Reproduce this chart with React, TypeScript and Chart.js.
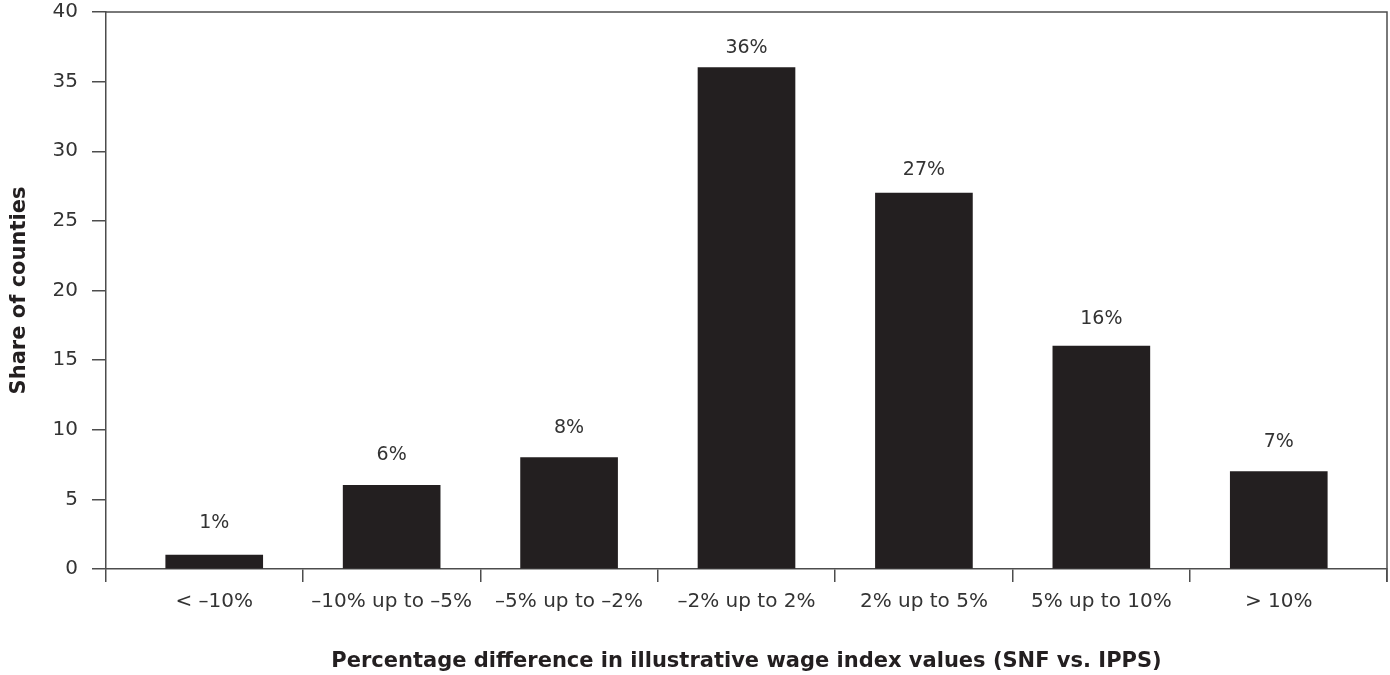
import React, { useEffect, useRef } from "react";
import { Chart, registerables } from "chart.js";

Chart.register(...registerables);

const categories = [
  "< –10%",
  "–10% up to –5%",
  "–5% up to –2%",
  "–2% up to 2%",
  "2% up to 5%",
  "5% up to 10%",
  "> 10%",
];
const shares = [1, 6, 8, 36, 27, 16, 7];
const yTicks = [0, 5, 10, 15, 20, 25, 30, 35, 40];

const FONT = "'DejaVu Sans', sans-serif";
const INK = "#333333";
const BAR = "#231f20";
const LINE = "#4d4d4d";

const X_MIN = -0.61;
const X_MAX = categories.length - 1 + 0.61;

// Percent labels above each bar; taller bars sit a little closer to their label.
const valueLabels = {
  id: "valueLabels",
  afterDatasetsDraw(chart: any) {
    const { ctx } = chart;
    const meta = chart.getDatasetMeta(0);
    ctx.save();
    ctx.font = `19px ${FONT}`;
    ctx.fillStyle = INK;
    ctx.textAlign = "center";
    ctx.textBaseline = "middle";
    meta.data.forEach((el: any, i: number) => {
      const gap = 18 + 0.025 * el.y;
      ctx.fillText(`${shares[i]}%`, el.x, el.y - gap);
    });
    ctx.restore();
  },
};

// Closes the plot box on the top and right.
const frame = {
  id: "frame",
  afterDraw(chart: any) {
    const { ctx, chartArea } = chart;
    ctx.save();
    ctx.strokeStyle = LINE;
    ctx.lineWidth = 1.5;
    ctx.beginPath();
    ctx.moveTo(chartArea.left, chartArea.top);
    ctx.lineTo(chartArea.right, chartArea.top);
    ctx.lineTo(chartArea.right, chartArea.bottom + 13);
    ctx.stroke();
    ctx.restore();
  },
};

const noScalePadding = (scale: any) => {
  scale.paddingTop = 0;
  scale.paddingBottom = 0;
  scale.paddingLeft = 0;
  scale.paddingRight = 0;
};

export default function App() {
  const ref = useRef<HTMLCanvasElement | null>(null);

  useEffect(() => {
    if (!ref.current) return;
    const chart = new Chart(ref.current, {
      type: "bar",
      data: {
        datasets: [
          {
            data: shares.map((v, i) => ({ x: i, y: v })),
            backgroundColor: BAR,
            borderWidth: 0,
            barThickness: 97,
          },
        ],
      },
      options: {
        animation: false,
        responsive: false,
        layout: { padding: { top: 12, right: 3, bottom: 0, left: 0 } },
        plugins: { legend: { display: false }, tooltip: { enabled: false } },
        scales: {
          x: {
            type: "linear",
            offset: false,
            min: X_MIN,
            max: X_MAX,
            afterBuildTicks(scale: any) {
              const vals: number[] = [X_MIN, X_MAX];
              categories.forEach((_, i) => {
                vals.push(i);
                if (i < categories.length - 1) vals.push(i + 0.5);
              });
              vals.sort((a, b) => a - b);
              scale.ticks = vals.map((value) => ({ value }));
            },
            afterFit(scale: any) {
              scale.height = 106;
              noScalePadding(scale);
            },
            border: { display: true, color: LINE, width: 1.5 },
            grid: {
              offset: false,
              drawOnChartArea: false,
              drawTicks: true,
              tickLength: 13,
              lineWidth: 1.5,
              color: (c: any) =>
                c.tick && Number.isInteger(c.tick.value) ? "rgba(0,0,0,0)" : LINE,
            },
            ticks: {
              autoSkip: false,
              maxRotation: 0,
              padding: 8,
              color: INK,
              font: { family: FONT, size: 20 },
              callback: (v: any) =>
                Number.isInteger(v) ? categories[v] ?? "" : "",
            },
            title: {
              display: true,
              text: "Percentage difference in illustrative wage index values (SNF vs. IPPS)",
              color: "#231f20",
              font: { family: FONT, size: 21, weight: "bold" },
              padding: { top: 0, bottom: 1 },
            },
          },
          y: {
            min: 0,
            max: 40,
            afterBuildTicks(scale: any) {
              scale.ticks = yTicks.map((value) => ({ value }));
            },
            afterFit(scale: any) {
              scale.width = 106;
              noScalePadding(scale);
            },
            border: { display: true, color: LINE, width: 1.5 },
            grid: {
              drawOnChartArea: false,
              drawTicks: true,
              tickLength: 14,
              lineWidth: 1.5,
              color: LINE,
            },
            ticks: {
              padding: 14,
              color: INK,
              font: { family: FONT, size: 20 },
            },
            title: {
              display: true,
              text: "Share of counties",
              color: "#231f20",
              font: { family: FONT, size: 21, weight: "bold" },
              padding: { top: 7, bottom: 0 },
            },
          },
        },
      },
      plugins: [valueLabels, frame],
    });
    return () => chart.destroy();
  }, []);

  return (
    <div style={{ position: "absolute", left: 0, top: 0, width: 1390, height: 675, background: "#fff" }}>
      <canvas ref={ref} width={1390} height={675} style={{ display: "block" }} />
    </div>
  );
}
